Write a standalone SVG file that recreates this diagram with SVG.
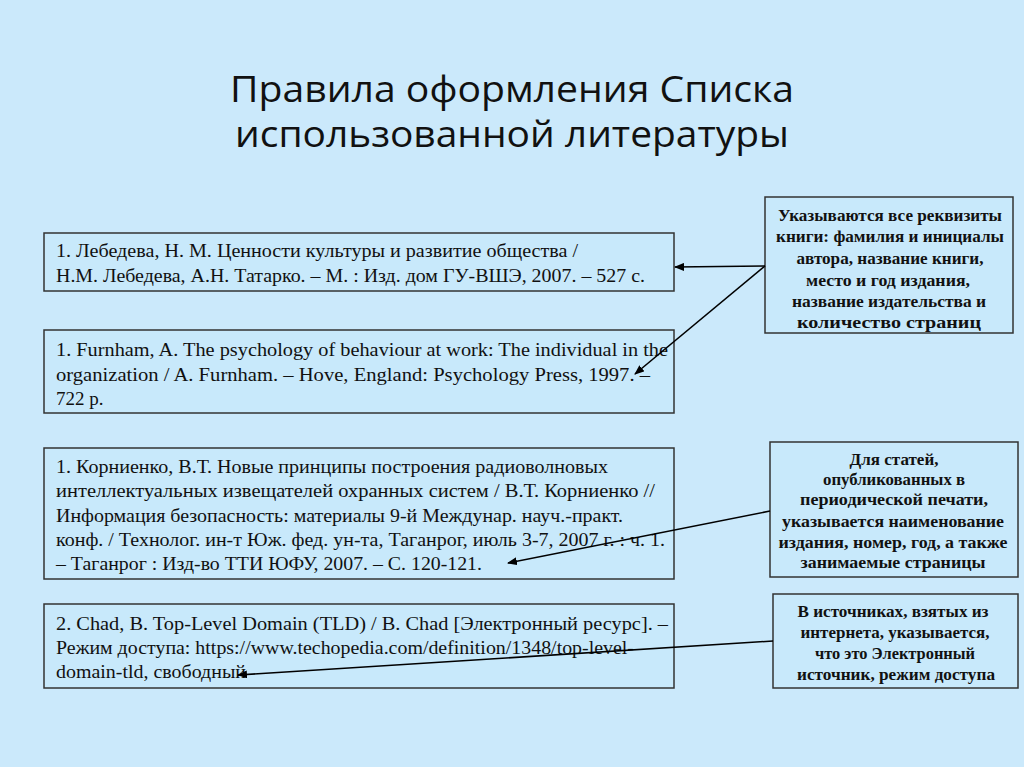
<svg xmlns="http://www.w3.org/2000/svg" width="1024" height="767" viewBox="0 0 1024 767">
<defs>
<marker id="ah" markerWidth="10" markerHeight="8" refX="9" refY="4" orient="auto" markerUnits="userSpaceOnUse"><path d="M0,0 L10,4 L0,8 z" fill="#000"/></marker>
<style>
.box{fill:#c8e9fb;stroke:#333;stroke-width:1.5}
.t{font-family:"Liberation Serif",serif;font-size:19px;fill:#111}
.b{font-family:"Liberation Serif",serif;font-size:16.5px;font-weight:bold;fill:#111;text-anchor:middle}
.ttl{font-family:"Open Sans","Liberation Sans",sans-serif;font-size:36px;fill:#111;text-anchor:middle}
.c{stroke:#000;stroke-width:1.6;fill:none;marker-end:url(#ah)}
</style>
</defs>
<rect width="1024" height="767" fill="#cbe9fb"/>
<text class="ttl" x="512" y="102" textLength="564" lengthAdjust="spacingAndGlyphs">Правила оформления Списка</text>
<text class="ttl" x="512" y="147" textLength="554" lengthAdjust="spacingAndGlyphs">использованной литературы</text>
<g id="n1"><rect class="box" x="44" y="233" width="630" height="58"/>
<text class="t" x="56" y="257" textLength="522" lengthAdjust="spacingAndGlyphs">1. Лебедева, Н. М. Ценности культуры и развитие общества /</text>
<text class="t" x="56" y="282" textLength="589" lengthAdjust="spacingAndGlyphs">Н.М. Лебедева, А.Н. Татарко. – М. : Изд. дом ГУ-ВШЭ, 2007. – 527 с.</text></g>
<g id="n2"><rect class="box" x="44" y="330" width="630" height="83"/>
<text class="t" x="56" y="356" textLength="612" lengthAdjust="spacingAndGlyphs">1. Furnham, A. The psychology of behaviour at work: The individual in the</text>
<text class="t" x="56" y="381" textLength="594" lengthAdjust="spacingAndGlyphs">organization / A. Furnham. – Hove, England: Psychology Press, 1997. –</text>
<text class="t" x="56" y="405">722 p.</text></g>
<g id="n3"><rect class="box" x="44" y="448" width="630" height="131"/>
<text class="t" x="56" y="473" textLength="552" lengthAdjust="spacingAndGlyphs">1. Корниенко, В.Т. Новые принципы построения радиоволновых</text>
<text class="t" x="56" y="497" textLength="599" lengthAdjust="spacingAndGlyphs">интеллектуальных извещателей охранных систем / В.Т. Корниенко //</text>
<text class="t" x="56" y="522" textLength="567" lengthAdjust="spacingAndGlyphs">Информация безопасность: материалы 9-й Междунар. науч.-практ.</text>
<text class="t" x="56" y="546" textLength="609" lengthAdjust="spacingAndGlyphs">конф. / Технолог. ин-т Юж. фед. ун-та, Таганрог, июль 3-7, 2007 г. : ч. 1.</text>
<text class="t" x="56" y="570" textLength="426" lengthAdjust="spacingAndGlyphs">– Таганрог : Изд-во ТТИ ЮФУ, 2007. – С. 120-121.</text></g>
<g id="n4"><rect class="box" x="44" y="604" width="630" height="84"/>
<text class="t" x="56" y="630" textLength="612" lengthAdjust="spacingAndGlyphs">2. Chad, B. Top-Level Domain (TLD) / B. Chad [Электронный ресурс]. –</text>
<text class="t" x="56" y="654" textLength="578" lengthAdjust="spacingAndGlyphs">Режим доступа: https://www.techopedia.com/definition/1348/top-level-</text>
<text class="t" x="56" y="678" textLength="190" lengthAdjust="spacingAndGlyphs">domain-tld, свободный</text></g>
<g id="r1"><rect class="box" x="765" y="197" width="248" height="136"/>
<text class="b" x="890" y="221" textLength="224" lengthAdjust="spacingAndGlyphs">Указываются все реквизиты</text>
<text class="b" x="890" y="242" textLength="228" lengthAdjust="spacingAndGlyphs">книги: фамилия и инициалы</text>
<text class="b" x="890" y="264" textLength="187" lengthAdjust="spacingAndGlyphs">автора, название книги,</text>
<text class="b" x="888" y="286" textLength="164" lengthAdjust="spacingAndGlyphs">место и год издания,</text>
<text class="b" x="889" y="307" textLength="194" lengthAdjust="spacingAndGlyphs">название издательства и</text>
<text class="b" x="889" y="328" textLength="184" lengthAdjust="spacingAndGlyphs">количество страниц</text></g>
<g id="r2"><rect class="box" x="770" y="442" width="248" height="135"/>
<text class="b" x="894" y="465" textLength="89" lengthAdjust="spacingAndGlyphs">Для статей,</text>
<text class="b" x="894" y="485" textLength="142" lengthAdjust="spacingAndGlyphs">опубликованных в</text>
<text class="b" x="894" y="505" textLength="188" lengthAdjust="spacingAndGlyphs">периодической печати,</text>
<text class="b" x="893" y="527" textLength="222" lengthAdjust="spacingAndGlyphs">указывается наименование</text>
<text class="b" x="893" y="548" textLength="229" lengthAdjust="spacingAndGlyphs">издания, номер, год, а также</text>
<text class="b" x="893" y="568" textLength="185" lengthAdjust="spacingAndGlyphs">занимаемые страницы</text></g>
<g id="r3"><rect class="box" x="773" y="594" width="245" height="94"/>
<text class="b" x="893" y="617" textLength="191" lengthAdjust="spacingAndGlyphs">В источниках, взятых из</text>
<text class="b" x="895" y="638" textLength="189" lengthAdjust="spacingAndGlyphs">интернета, указывается,</text>
<text class="b" x="895" y="659" textLength="160" lengthAdjust="spacingAndGlyphs">что это Электронный</text>
<text class="b" x="896" y="680" textLength="198" lengthAdjust="spacingAndGlyphs">источник, режим доступа</text></g>
<g id="connectors">
<line class="c" x1="765" y1="266" x2="675" y2="267"/>
<line class="c" x1="765" y1="266" x2="635" y2="374"/>
<line class="c" x1="770" y1="511" x2="508" y2="563"/>
<line class="c" x1="773" y1="641" x2="238" y2="675"/>
</g>
</svg>
